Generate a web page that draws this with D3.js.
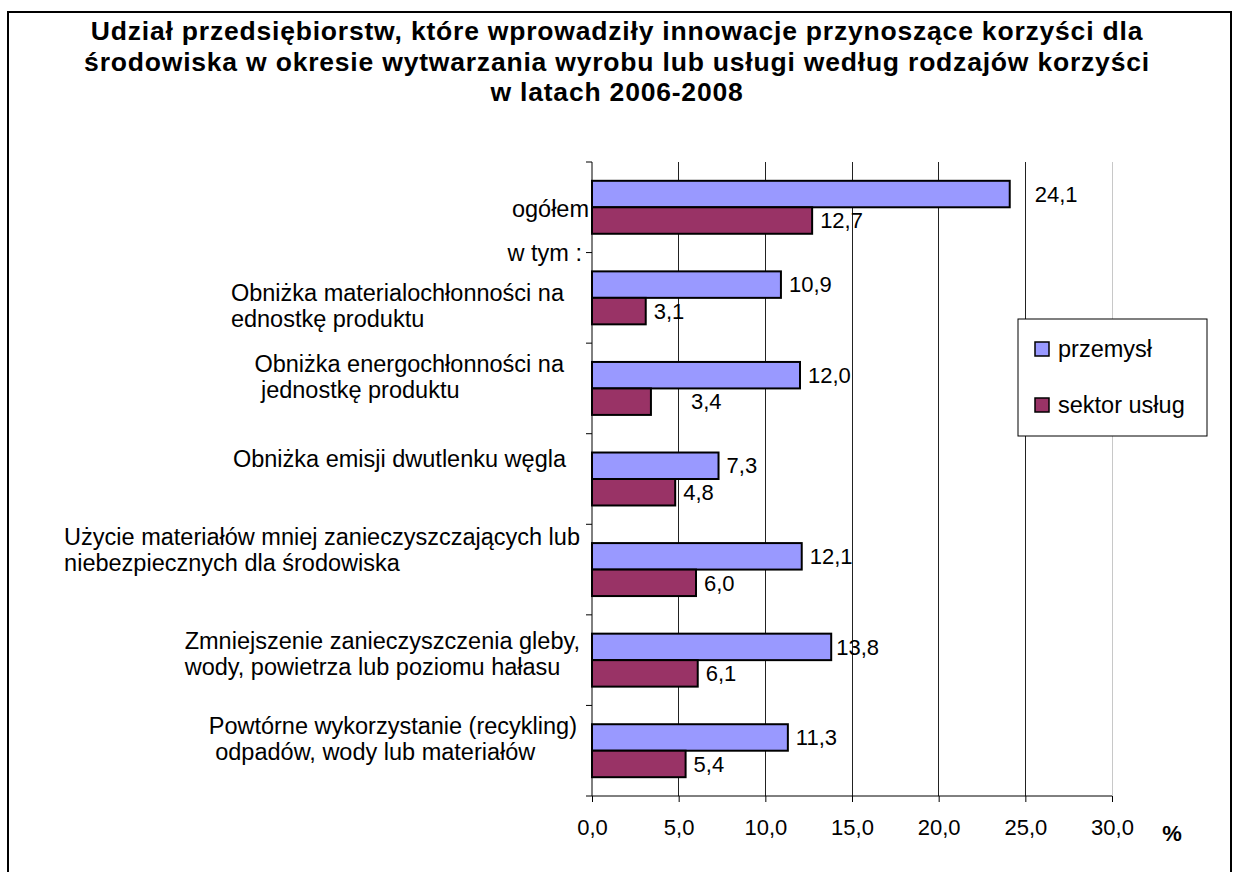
<html>
<script src='https://d3js.org/d3.v7.min.js'></script>
<style>
  body {margin: 0; background: #fff;}
  text {font-family: "Liberation Sans", Arial, sans-serif; fill: #000;}
</style>
<body onload='init()'>
<svg width=1234 height=872></svg>
<script>
// chart data
var titleLines = [
  "Udział przedsiębiorstw, które wprowadziły innowacje przynoszące korzyści dla",
  "środowiska w okresie wytwarzania wyrobu lub usługi według rodzajów korzyści",
  "w latach 2006-2008"
];
var categories = [
  ["ogółem"],
  ["Obniżka materialochłonności na", "ednostkę produktu"],
  ["Obniżka energochłonności na", " jednostkę produktu"],
  ["Obniżka emisji dwutlenku węgla"],
  ["Użycie materiałów mniej zanieczyszczających lub", "niebezpiecznych dla środowiska"],
  ["Zmniejszenie zanieczyszczenia gleby,", "wody, powietrza lub poziomu hałasu"],
  ["Powtórne wykorzystanie (recykling)", " odpadów, wody lub materiałów"]
];
var seriesNames = ["przemysł", "sektor usług"];
var przemysl    = [24.1, 10.9, 12.0, 7.3, 12.1, 13.8, 11.3];
var sektorUslug = [12.7, 3.1, 3.4, 4.8, 6.0, 6.1, 5.4];
var xTicks = [0, 5, 10, 15, 20, 25, 30];
var subLabel = "w tym :";
var unitLabel = "%";

function init() {
  var svg = d3.select("svg");
  var colors = ["#9999ff", "#993366"];
  var plot = {left: 592, right: 1112, top: 162, bottom: 796};

  var pl = d3.formatLocale({decimal: ",", thousands: " ", grouping: [3], currency: ["", ""]});
  var fmt = pl.format(".1f");

  var x = d3.scaleLinear([0, 30], [plot.left, plot.right]);
  var y = d3.scaleBand(d3.range(categories.length), [plot.top, plot.bottom]);
  var inner = d3.scaleBand([0, 1], [0, y.bandwidth()]).paddingOuter(0.71);

  // outer frame
  svg.append("rect")
    .attr("x", 8).attr("y", 12).attr("width", 1223).attr("height", 900)
    .attr("fill", "none").attr("stroke", "#000").attr("stroke-width", 2);

  // title
  svg.append("g").selectAll("text").data(titleLines).join("text")
    .attr("x", 617).attr("y", (d, i) => 31 + i * 30.5)
    .attr("dy", "0.35em").attr("text-anchor", "middle")
    .style("font-size", "26.5px").style("font-weight", "bold")
    .style("letter-spacing", "0.8px")
    .text(d => d);

  // grid lines
  svg.append("g").selectAll("line").data(xTicks.slice(1)).join("line")
    .attr("x1", d => x(d)).attr("x2", d => x(d))
    .attr("y1", plot.top).attr("y2", plot.bottom)
    .attr("stroke", d => d === 30 ? "#c8c8c8" : "#222")
    .attr("stroke-width", 1)
    .attr("shape-rendering", "crispEdges");

  // bars
  var rows = categories.map((c, i) => ({i: i, vals: [przemysl[i], sektorUslug[i]]}));
  var grp = svg.append("g").selectAll("g").data(rows).join("g")
    .attr("transform", d => "translate(0," + y(d.i) + ")");
  grp.selectAll("rect").data(d => d.vals.map((v, s) => ({v: v, s: s, i: d.i}))).join("rect")
    .attr("x", x(0))
    .attr("y", d => inner(d.s))
    .attr("width", d => x(d.v) - x(0))
    .attr("height", inner.bandwidth())
    .attr("fill", d => colors[d.s])
    .attr("stroke", "#000").attr("stroke-width", 2);

  // value labels (a few were dragged aside in the original)
  var nudge = {"0-0": 17, "2-1": 32, "5-0": -3};
  grp.selectAll("text").data(d => d.vals.map((v, s) => ({v: v, s: s, i: d.i}))).join("text")
    .attr("x", d => x(d.v) + 8 + (nudge[d.i + "-" + d.s] || 0))
    .attr("y", d => inner(d.s) + inner.bandwidth() / 2)
    .attr("dy", "0.35em")
    .style("font-size", "22px")
    .text(d => fmt(d.v));

  // axes
  var xAxis = d3.axisBottom(x).tickValues(xTicks).tickSize(6).tickFormat(fmt);
  var gx = svg.append("g").attr("transform", "translate(0," + plot.bottom + ")").call(xAxis);
  gx.select(".domain").attr("d", "M" + plot.left + ",0H" + plot.right);
  gx.selectAll("line, path").attr("stroke", "#000");
  gx.selectAll("text").attr("y", 31).attr("dy", "0.35em")
    .style("font-size", "22px").style("font-family", "Liberation Sans, Arial, sans-serif");

  var yb = d3.range(categories.length + 1).map(i => plot.top + i * y.step());
  var gy = svg.append("g");
  gy.append("line").attr("x1", plot.left).attr("x2", plot.left)
    .attr("y1", plot.top).attr("y2", plot.bottom).attr("stroke", "#000");
  gy.selectAll("line.t").data(yb).join("line").attr("class", "t")
    .attr("x1", plot.left - 6).attr("x2", plot.left)
    .attr("y1", d => d).attr("y2", d => d).attr("stroke", "#000");

  // category labels: lines left-aligned in a block, block placed left of the axis
  var labelLayout = [
    {gap: 3, top: 47}, {gap: 28, top: 40}, {gap: 28, top: 21}, {gap: 26, top: 25},
    {gap: 12, top: 12}, {gap: 12, top: 26}, {gap: 15, top: 20}
  ];
  categories.forEach(function (lines, i) {
    var L = labelLayout[i];
    var g = svg.append("g");
    var t = g.selectAll("text").data(lines).join("text")
      .attr("y", (d, k) => y(i) + L.top + k * 26)
      .attr("dy", "0.35em")
      .attr("xml:space", "preserve")
      .style("white-space", "pre")
      .style("font-size", "23.5px")
      .text(d => d);
    var w = d3.max(t.nodes(), n => n.getComputedTextLength());
    t.attr("x", plot.left - L.gap - w);
  });

  svg.append("text")
    .attr("x", plot.left - 10).attr("y", y(1)).attr("dy", "0.35em")
    .attr("text-anchor", "end").style("font-size", "23.5px")
    .text(subLabel);

  // unit
  svg.append("text")
    .attr("x", 1172).attr("y", plot.bottom + 37).attr("dy", "0.35em")
    .attr("text-anchor", "middle").style("font-size", "22px").style("font-weight", "bold")
    .text(unitLabel);

  // legend
  var lg = svg.append("g").attr("transform", "translate(1018,319)");
  lg.append("rect").attr("width", 189).attr("height", 117)
    .attr("fill", "#fff").attr("stroke", "#000").attr("stroke-width", 1);
  var li = lg.selectAll("g").data(seriesNames).join("g")
    .attr("transform", (d, i) => "translate(17," + (23 + i * 56) + ")");
  li.append("rect").attr("width", 14).attr("height", 14)
    .attr("fill", (d, i) => colors[i]).attr("stroke", "#000").attr("stroke-width", 1.5);
  li.append("text").attr("x", 23).attr("y", 7).attr("dy", "0.35em")
    .style("font-size", "23.5px").text(d => d);
}
</script>
</body>
</html>
